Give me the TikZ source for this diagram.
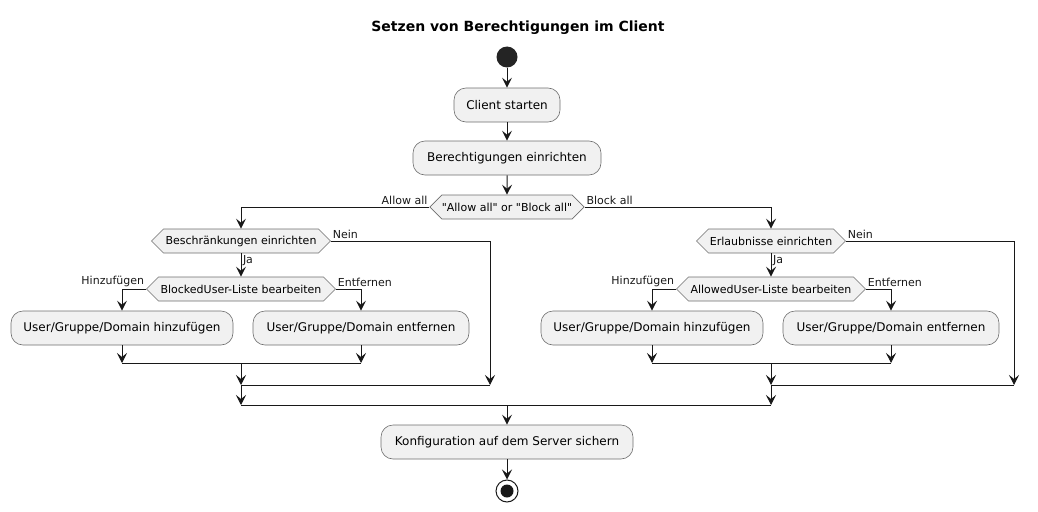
\documentclass[tikz,border=0pt]{standalone}
\usepackage{fontspec}
\setmainfont{DejaVu Sans}[Ligatures=TeXOff]
\usetikzlibrary{arrows.meta,shapes.symbols}
\definecolor{actfill}{HTML}{F1F1F1}
\definecolor{actline}{HTML}{6E6E6E}
\definecolor{ink}{HTML}{181818}
\tikzset{
  % rounded activity box
  act/.style={draw=actline, fill=actfill, line width=0.6pt, rounded corners=12pt,
    minimum height=34pt, inner sep=0pt, font=\fontsize{12}{14}\selectfont},
  % hexagon decision
  cond/.style={draw=actline, fill=actfill, line width=0.6pt, signal, signal to=west and east,
    signal pointer angle=90, minimum height=24pt, inner sep=0pt, font=\fontsize{11}{13}\selectfont},
  flow/.style={draw=ink, line width=1pt, -{Stealth[length=10pt,width=10pt,inset=4pt]}},
  plain/.style={draw=ink, line width=1pt},
  lbl/.style={font=\fontsize{11}{13}\selectfont, inner sep=1.5pt, text=ink},
  startdot/.style={circle, fill=ink!95, minimum size=21pt, inner sep=0pt},
  stopdot/.style={circle, draw=ink, line width=1pt, minimum size=22pt, inner sep=0pt,
    path picture={\fill[ink] (path picture bounding box.center) circle (6.5pt);}},
}
\begin{document}
\begin{tikzpicture}[x=1pt,y=-1pt]
\useasboundingbox (0,0) rectangle (1038,511);

\node[font=\bfseries\fontsize{14}{16}\selectfont] (title) at (518,28) {Setzen von Berechtigungen im Client};

\node[startdot] (start) at (507,57) {};
\node[act, minimum width=106pt] (client) at (507,105) {Client starten};
\node[act, minimum width=188pt] (rechte) at (507,158) {Berechtigungen einrichten};
\node[cond, minimum width=154pt] (modus) at (507,207) {"Allow all" or "Block all"};

% Allow all branch
\node[cond, minimum width=179pt] (beschr) at (241,241) {Beschränkungen einrichten};
\node[cond, minimum width=189pt] (blocked) at (241,289) {BlockedUser-Liste bearbeiten};
\node[act, minimum width=222pt] (addL) at (122,328) {User/Gruppe/Domain hinzufügen};
\node[act, minimum width=216pt] (delL) at (361,328) {User/Gruppe/Domain entfernen};

% Block all branch
\node[cond, minimum width=149pt] (erlaub) at (771,241) {Erlaubnisse einrichten};
\node[cond, minimum width=189pt] (allowed) at (771,289) {AllowedUser-Liste bearbeiten};
\node[act, minimum width=222pt] (addR) at (652,328) {User/Gruppe/Domain hinzufügen};
\node[act, minimum width=216pt] (delR) at (891,328) {User/Gruppe/Domain entfernen};

\node[act, minimum width=252pt] (konfig) at (507,442) {Konfiguration auf dem Server sichern};
\node[stopdot] (stop) at (507,491) {};

\coordinate (j1L) at (241,363);
\coordinate (j2L) at (241,385);
\coordinate (j3L) at (241,405);
\coordinate (neinL) at (490,385);
\coordinate (j1R) at (771,363);
\coordinate (j2R) at (771,385);
\coordinate (j3R) at (771,405);
\coordinate (neinR) at (1014,385);
\coordinate (j3) at (507,405);

\draw[flow] (start) -- (client);
\draw[flow] (client) -- (rechte);
\draw[flow] (rechte) -- (modus);
\draw[flow] (modus.west) -| (beschr.north) node[lbl, at start, anchor=south east] {Allow all};
\draw[flow] (modus.east) -| (erlaub.north) node[lbl, at start, anchor=south west] {Block all};

\draw[flow] (beschr.east) -| (neinL) node[lbl, at start, anchor=south west] {Nein};
\draw[flow] (beschr.south) -- (blocked.north) node[lbl, at start, anchor=north west] {Ja};
\draw[flow] (blocked.west) -| (addL.north) node[lbl, at start, anchor=south east] {Hinzufügen};
\draw[flow] (blocked.east) -| (delL.north) node[lbl, at start, anchor=south west] {Entfernen};
\draw[flow] (addL.south) -- (addL |- j1L);
\draw[flow] (delL.south) -- (delL |- j1L);
\draw[plain] (addL |- j1L) -- (delL |- j1L);
\draw[flow] (j1L) -- (j2L);
\draw[plain] (j2L) -- (neinL);
\draw[flow] (j2L) -- (j3L);

\draw[flow] (erlaub.east) -| (neinR) node[lbl, at start, anchor=south west] {Nein};
\draw[flow] (erlaub.south) -- (allowed.north) node[lbl, at start, anchor=north west] {Ja};
\draw[flow] (allowed.west) -| (addR.north) node[lbl, at start, anchor=south east] {Hinzufügen};
\draw[flow] (allowed.east) -| (delR.north) node[lbl, at start, anchor=south west] {Entfernen};
\draw[flow] (addR.south) -- (addR |- j1R);
\draw[flow] (delR.south) -- (delR |- j1R);
\draw[plain] (addR |- j1R) -- (delR |- j1R);
\draw[flow] (j1R) -- (j2R);
\draw[plain] (j2R) -- (neinR);
\draw[flow] (j2R) -- (j3R);

\draw[plain] (j3L) -- (j3R);
\draw[flow] (j3) -- (konfig);
\draw[flow] (konfig) -- (stop);

\end{tikzpicture}
\end{document}
